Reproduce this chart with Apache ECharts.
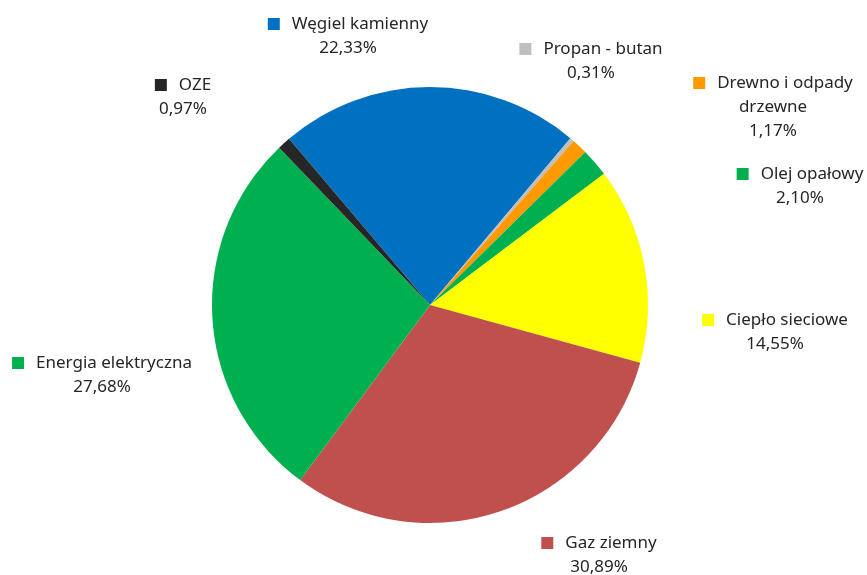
<!DOCTYPE html>
<html lang="pl">
<head>
    <meta charset="utf-8">
    <title>Struktura zużycia nośników energii</title>
    <script type="text/javascript" src="https://cdn.jsdelivr.net/npm/echarts@6/dist/echarts.min.js"></script>
    <style>
        html, body { margin: 0; padding: 0; background: #ffffff; }
        #chartMain { width: 867px; height: 575px; }
    </style>
</head>
<body>
    <div id="chartMain"></div>
    <script type="text/javascript">
        // dane
        var categories = ['Węgiel kamienny', 'Propan - butan', 'Drewno i odpady\ndrzewne', 'Olej opałowy',
            'Ciepło sieciowe', 'Gaz ziemny', 'Energia elektryczna', 'OZE'];
        var shares = [22.33, 0.31, 1.17, 2.10, 14.55, 30.89, 27.68, 0.97];
        var colors = ['#0070C0', '#BFBFBF', '#FF9900', '#00B050', '#FFFF00', '#C0504D', '#00B050', '#262626'];

        // polozenie etykiet (srodek bloku tekstu)
        var labelPos = [[348, 36], [591, 61], [773, 107], [800, 186], [775, 332], [599, 555], [102, 375], [183, 97]];

        var rich = {
            s: { width: 12 }
        };
        colors.forEach(function (c, i) {
            rich['m' + i] = { width: 12, height: 12, backgroundColor: c };
        });

        var chart = echarts.init(document.getElementById('chartMain'));
        chart.setOption({
            animation: false,
            color: colors,
            series: [{
                type: 'pie',
                center: [430, 305],
                radius: 218,
                startAngle: 130.3,
                clockwise: true,
                avoidLabelOverlap: false,
                label: {
                    show: true,
                    position: 'outside',
                    fontFamily: 'Noto Sans',
                    fontSize: 17,
                    lineHeight: 24,
                    color: '#262626',
                    align: 'center',
                    formatter: function (p) {
                        var v = shares[p.dataIndex].toFixed(2).replace('.', ',') + '%';
                        return '{m' + p.dataIndex + '|}{s|}' + p.name + '\n' + v;
                    },
                    rich: rich
                },
                labelLine: { show: false },
                labelLayout: function (params) {
                    var pos = labelPos[params.dataIndex];
                    return {
                        x: pos[0],
                        y: pos[1],
                        align: 'center',
                        verticalAlign: 'middle'
                    };
                },
                emphasis: { disabled: true },
                data: categories.map(function (name, i) {
                    return { name: name, value: shares[i] };
                })
            }]
        });
    </script>
</body>
</html>
